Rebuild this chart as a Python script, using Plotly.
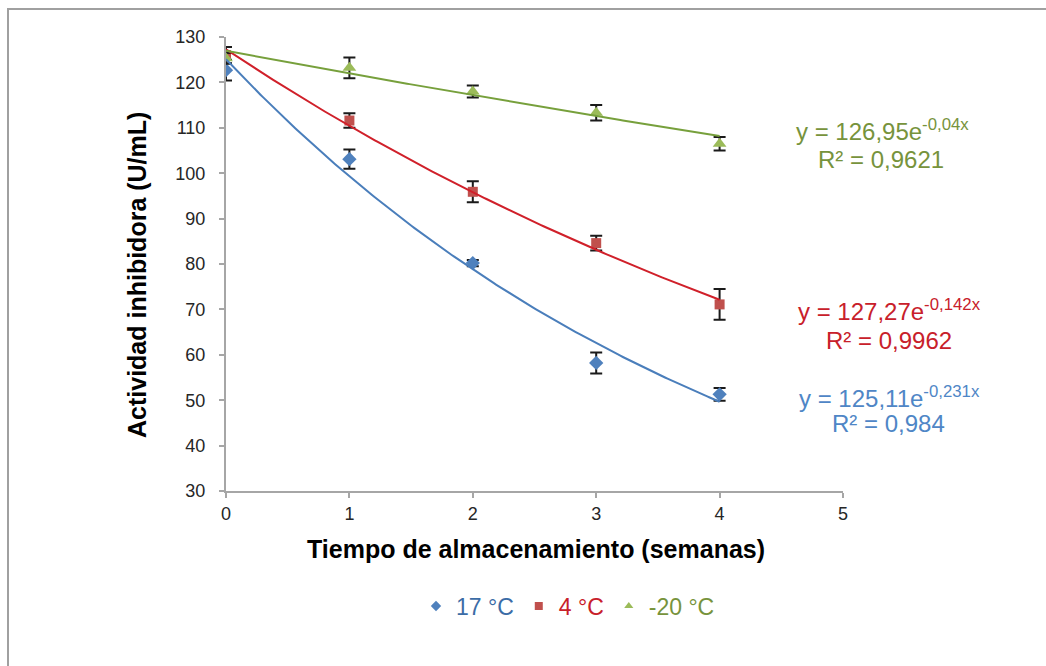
import numpy as np
import plotly.graph_objects as go

# Storage time (weeks)
semanas = [0, 1, 2, 3, 4]

# Inhibitory activity (U/mL) and standard deviation for each storage temperature
act_17 = [122.7, 103.1, 80.2, 58.2, 51.3]
err_17 = [2.3, 2.1, 0.7, 2.3, 1.4]
act_4 = [126.0, 111.6, 95.9, 84.6, 71.1]
err_4 = [1.8, 1.6, 2.3, 1.6, 3.4]
act_m20 = [125.3, 123.2, 118.0, 113.3, 106.5]
err_m20 = [1.2, 2.3, 1.3, 1.7, 1.5]

# Exponential trendline coefficients y = a * exp(b * x) and R²
fit_17 = (125.11, -0.231, "125,11", "-0,231", "0,984")
fit_4 = (127.27, -0.142, "127,27", "-0,142", "0,9962")
fit_m20 = (126.95, -0.04, "126,95", "-0,04", "0,9621")

FONT = "Liberation Sans, Arial, sans-serif"

L, R, T, B = 226, 203, 37, 175
W, H = 1046, 666
PW, PH = W - L - R, H - T - B


def px(x):
    return (x - L) / PW


def py(y):
    return (H - B - y) / PH


series = [
    ("17 °C", act_17, err_17, fit_17, "diamond", 11, "#4F81BD", "#4A7EBB", "#3B6CA6", "#4F86C6"),
    ("4 °C", act_4, err_4, fit_4, "square", 10, "#C0504D", "#D0202A", "#C8202A", "#C8202A"),
    ("-20 °C", act_m20, err_m20, fit_m20, "triangle-up", 12, "#9BBB59", "#77A03C", "#77933C", "#77933C"),
]

fig = go.Figure()

for name, vals, errs, fit, sym, size, mcol, lcol, tcol, ecol in series:
    fig.add_trace(go.Scatter(
        x=semanas, y=vals, mode="markers", showlegend=False,
        marker=dict(symbol=sym, size=size, color=mcol),
        error_y=dict(type="data", array=errs, visible=True, color="#1a1a1a", thickness=2, width=6),
    ))

for name, vals, errs, fit, sym, size, mcol, lcol, tcol, ecol in series:
    a, b = fit[0], fit[1]
    xs = np.linspace(0, 4, 200)
    fig.add_trace(go.Scatter(
        x=xs, y=a * np.exp(b * xs), mode="lines", showlegend=False, hoverinfo="skip",
        line=dict(color=lcol, width=2),
    ))

# Legend entries (smaller symbols than the data markers)
for name, vals, errs, fit, sym, size, mcol, lcol, tcol, ecol in series:
    fig.add_trace(go.Scatter(
        x=[None], y=[None], mode="markers", name=f"<span style='color:{tcol}'>{name}</span>",
        marker=dict(symbol=sym, size=8, color=mcol),
    ))

# Trendline equations
eq_pos = [(889, 397, 888, 423), (889, 310, 889, 340), (882, 130, 881, 159)]
for (name, vals, errs, fit, sym, size, mcol, lcol, tcol, ecol), (x1, y1, x2, y2) in zip(series, eq_pos):
    fig.add_annotation(
        x=px(x1), y=py(y1), xref="paper", yref="paper", showarrow=False,
        text=f"y = {fit[2]}e<sup>{fit[3]}x</sup>", font=dict(family=FONT, size=24, color=ecol),
        xanchor="center", yanchor="middle",
    )
    fig.add_annotation(
        x=px(x2), y=py(y2), xref="paper", yref="paper", showarrow=False,
        text=f"R² = {fit[4]}", font=dict(family=FONT, size=24, color=ecol),
        xanchor="center", yanchor="middle",
    )

# Axis titles
fig.add_annotation(
    x=px(137), y=py(275), xref="paper", yref="paper", showarrow=False, textangle=-90,
    text="<b>Actividad inhibidora (U/mL)</b>", font=dict(family=FONT, size=25, color="#000000"),
    xanchor="center", yanchor="middle",
)
fig.add_annotation(
    x=px(536), y=py(549), xref="paper", yref="paper", showarrow=False,
    text="<b>Tiempo de almacenamiento (semanas)</b>", font=dict(family=FONT, size=25, color="#000000"),
    xanchor="center", yanchor="middle",
)

# Outer chart frame
fig.add_shape(
    type="rect", xref="paper", yref="paper",
    x0=px(8), y0=py(700), x1=px(1100), y1=py(9),
    line=dict(color="#A0A0A0", width=2), fillcolor="rgba(0,0,0,0)", layer="below",
)

axis_common = dict(
    showgrid=False, zeroline=False, showline=True, linecolor="#A6A6A6", linewidth=2,
    ticks="outside", ticklen=5, tickwidth=2, tickcolor="#A6A6A6",
    tickfont=dict(family=FONT, size=18, color="#262626"),
)

fig.update_layout(
    width=W, height=H,
    margin=dict(l=L, r=R, t=T, b=B),
    paper_bgcolor="white", plot_bgcolor="white",
    xaxis=dict(range=[0, 5], tickvals=[0, 1, 2, 3, 4, 5], ticklabelstandoff=0, **axis_common),
    yaxis=dict(range=[30, 130], tickvals=list(range(30, 131, 10)), ticklabelstandoff=10, **axis_common),
    legend=dict(
        orientation="h", x=px(568), y=py(606), xanchor="center", yanchor="middle",
        font=dict(family=FONT, size=23), itemwidth=30, bgcolor="rgba(0,0,0,0)",
    ),
    showlegend=True,
)

fig.write_html("out.html")
